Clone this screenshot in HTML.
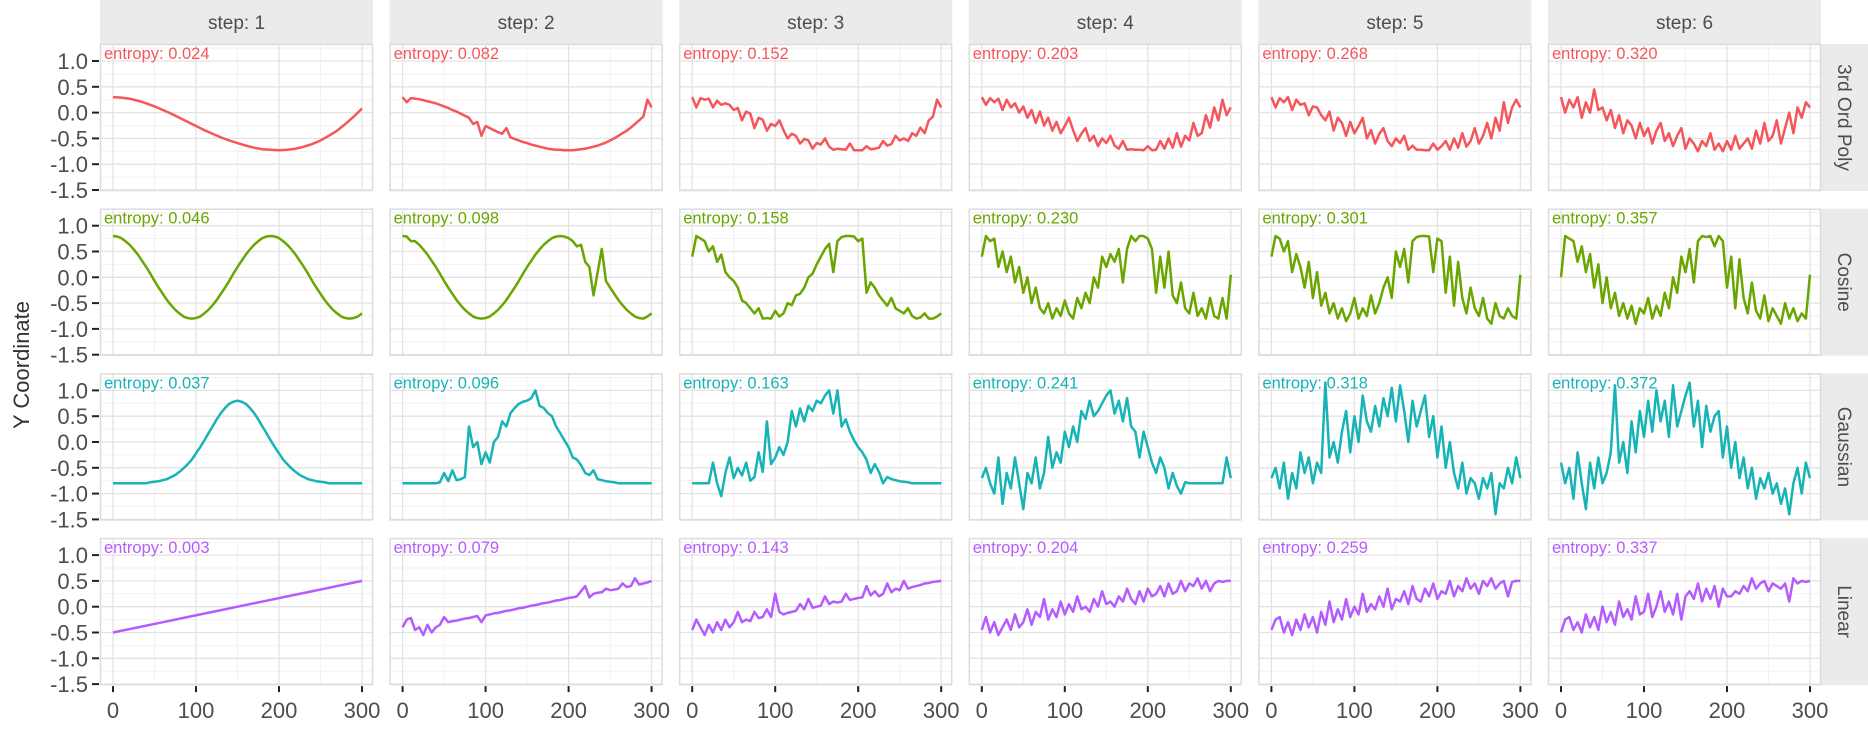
<!DOCTYPE html>
<html><head><meta charset="utf-8">
<style>
html,body{margin:0;padding:0;background:#fff;}
svg{display:block;font-family:"Liberation Sans",sans-serif;}
</style></head>
<body>
<svg id="chart" width="1868" height="730" viewBox="0 0 1868 730" xmlns="http://www.w3.org/2000/svg"></svg>
<script>
const steps = ["step: 1","step: 2","step: 3","step: 4","step: 5","step: 6"];
const rowNames = ["3rd Ord Poly","Cosine","Gaussian","Linear"];
const rowColors = ["#f5565c","#6aa500","#17b3b7","#b55cff"];
const yTicks = [1.0,0.5,0.0,-0.5,-1.0,-1.5];
const yTickLabels = ["1.0","0.5","0.0","-0.5","-1.0","-1.5"];
const xTicks = [0,100,200,300];
const xTickLabels = ["0","100","200","300"];
const entropy = [
 ["0.024","0.082","0.152","0.203","0.268","0.320"],
 ["0.046","0.098","0.158","0.230","0.301","0.357"],
 ["0.037","0.096","0.163","0.241","0.318","0.372"],
 ["0.003","0.079","0.143","0.204","0.259","0.337"]
];
const poly1 = [0.30,0.29,0.27,0.23,0.18,0.12,0.05,-0.02,-0.10,-0.18,-0.26,-0.34,-0.41,-0.48,-0.54,-0.59,-0.64,-0.68,-0.71,-0.72,-0.73,-0.72,-0.70,-0.66,-0.61,-0.54,-0.45,-0.35,-0.22,-0.08,0.08];
const poly2 = [0.30,0.20,0.28,0.27,0.26,0.24,0.22,0.20,0.18,0.15,0.12,0.09,0.05,0.02,-0.02,-0.06,-0.10,-0.22,-0.18,-0.45,-0.26,-0.30,-0.34,-0.38,-0.41,-0.30,-0.48,-0.51,-0.54,-0.57,-0.59,-0.62,-0.64,-0.66,-0.68,-0.70,-0.71,-0.72,-0.72,-0.73,-0.73,-0.73,-0.72,-0.71,-0.70,-0.68,-0.66,-0.64,-0.61,-0.58,-0.54,-0.50,-0.45,-0.40,-0.35,-0.29,-0.22,-0.15,-0.08,0.25,0.10];
const poly3 = [0.30,0.10,0.28,0.25,0.27,0.10,0.23,0.15,0.18,0.15,0.05,0.09,-0.15,0.02,-0.02,-0.30,-0.10,-0.14,-0.35,-0.22,-0.26,-0.15,-0.34,-0.50,-0.41,-0.45,-0.60,-0.51,-0.54,-0.70,-0.59,-0.62,-0.50,-0.66,-0.72,-0.70,-0.71,-0.72,-0.60,-0.73,-0.73,-0.73,-0.65,-0.71,-0.70,-0.68,-0.55,-0.64,-0.61,-0.45,-0.54,-0.50,-0.55,-0.40,-0.45,-0.29,-0.40,-0.15,-0.08,0.25,0.10];
const poly4 = [0.30,0.15,0.28,0.20,0.27,0.05,0.25,0.10,0.18,0.00,0.12,-0.10,0.05,-0.20,0.02,-0.25,-0.10,-0.35,-0.18,-0.40,-0.26,-0.10,-0.34,-0.55,-0.41,-0.30,-0.55,-0.45,-0.65,-0.50,-0.59,-0.45,-0.64,-0.70,-0.55,-0.72,-0.71,-0.72,-0.72,-0.73,-0.65,-0.73,-0.72,-0.55,-0.70,-0.50,-0.68,-0.40,-0.66,-0.45,-0.54,-0.20,-0.45,-0.40,-0.05,-0.29,0.10,-0.15,0.25,-0.05,0.10];
const poly5 = [0.30,0.10,0.28,0.20,0.30,0.05,0.25,0.15,0.18,-0.05,0.12,0.10,-0.05,-0.15,0.02,-0.35,-0.10,-0.20,-0.45,-0.18,-0.40,-0.26,-0.10,-0.50,-0.34,-0.60,-0.41,-0.30,-0.55,-0.65,-0.50,-0.59,-0.45,-0.72,-0.64,-0.72,-0.72,-0.73,-0.73,-0.60,-0.72,-0.65,-0.55,-0.72,-0.50,-0.68,-0.40,-0.66,-0.55,-0.30,-0.60,-0.45,-0.20,-0.50,-0.10,-0.35,0.20,-0.20,0.10,0.25,0.10];
const poly6 = [0.30,0.00,0.25,0.10,0.30,-0.10,0.20,0.00,0.45,0.05,0.10,-0.15,0.05,-0.30,-0.05,-0.40,-0.15,-0.25,-0.50,-0.20,-0.45,-0.30,-0.60,-0.35,-0.20,-0.55,-0.40,-0.65,-0.45,-0.30,-0.70,-0.50,-0.60,-0.75,-0.55,-0.65,-0.40,-0.72,-0.60,-0.75,-0.55,-0.72,-0.45,-0.70,-0.60,-0.50,-0.70,-0.35,-0.60,-0.20,-0.55,-0.45,-0.15,-0.60,-0.30,0.00,-0.40,0.10,-0.10,0.20,0.10];
const cos1 = [0.80,0.79,0.76,0.70,0.63,0.54,0.44,0.32,0.20,0.07,-0.07,-0.20,-0.32,-0.44,-0.54,-0.63,-0.70,-0.76,-0.79,-0.80,-0.79,-0.76,-0.70,-0.63,-0.54,-0.44,-0.32,-0.20,-0.07,0.07,0.20,0.32,0.44,0.54,0.63,0.70,0.76,0.79,0.80,0.79,0.76,0.70,0.63,0.54,0.44,0.32,0.20,0.07,-0.07,-0.20,-0.32,-0.44,-0.54,-0.63,-0.70,-0.76,-0.79,-0.80,-0.79,-0.76,-0.70];
const cos2 = [0.80,0.79,0.70,0.70,0.63,0.54,0.44,0.32,0.20,0.07,-0.07,-0.20,-0.32,-0.44,-0.54,-0.63,-0.70,-0.76,-0.79,-0.80,-0.79,-0.76,-0.70,-0.63,-0.54,-0.44,-0.32,-0.20,-0.07,0.07,0.20,0.32,0.44,0.54,0.63,0.70,0.76,0.79,0.80,0.79,0.76,0.70,0.60,0.63,0.30,0.20,-0.35,0.10,0.55,-0.07,-0.20,-0.32,-0.44,-0.54,-0.63,-0.70,-0.76,-0.79,-0.80,-0.76,-0.70];
const cos3 = [0.40,0.80,0.75,0.70,0.50,0.60,0.30,0.44,0.10,0.00,-0.07,-0.20,-0.45,-0.50,-0.60,-0.70,-0.60,-0.80,-0.79,-0.80,-0.65,-0.76,-0.70,-0.50,-0.54,-0.35,-0.32,-0.20,0.00,0.07,0.25,0.40,0.55,0.65,0.10,0.70,0.78,0.80,0.80,0.79,0.70,0.75,-0.30,-0.10,-0.20,-0.35,-0.45,-0.55,-0.40,-0.60,-0.65,-0.70,-0.60,-0.75,-0.80,-0.78,-0.70,-0.80,-0.80,-0.76,-0.70];
const cos4 = [0.40,0.80,0.70,0.75,0.20,0.50,0.10,0.40,-0.10,0.20,-0.30,0.00,-0.50,-0.20,-0.60,-0.70,-0.50,-0.80,-0.60,-0.75,-0.45,-0.70,-0.80,-0.40,-0.60,-0.30,-0.50,0.00,-0.20,0.40,0.20,0.45,0.30,0.55,-0.10,0.55,0.80,0.70,0.80,0.80,0.75,0.55,-0.30,0.40,-0.20,0.50,-0.35,-0.50,-0.10,-0.60,-0.70,-0.30,-0.75,-0.60,-0.80,-0.40,-0.75,-0.80,-0.40,-0.80,0.05];
const cos5 = [0.40,0.80,0.75,0.50,0.70,0.10,0.45,0.20,-0.20,0.30,-0.40,0.10,-0.55,-0.30,-0.70,-0.50,-0.80,-0.60,-0.85,-0.70,-0.40,-0.80,-0.60,-0.75,-0.35,-0.70,-0.50,-0.20,0.00,-0.40,0.50,0.20,0.55,-0.10,0.70,0.78,0.80,0.80,0.79,0.10,0.75,0.70,-0.30,0.40,-0.55,0.30,-0.40,-0.70,-0.20,-0.60,-0.75,-0.40,-0.80,-0.90,-0.50,-0.75,-0.80,-0.60,-0.75,-0.80,0.05];
const cos6 = [0.00,0.80,0.75,0.70,0.30,0.60,0.10,0.45,-0.20,0.25,-0.50,0.00,-0.60,-0.30,-0.75,-0.50,-0.80,-0.55,-0.90,-0.60,-0.70,-0.40,-0.80,-0.55,-0.75,-0.30,-0.60,0.00,-0.30,0.40,0.10,0.55,-0.10,0.70,0.80,0.78,0.80,0.60,0.80,0.70,-0.20,0.40,-0.60,0.35,-0.40,-0.70,-0.10,-0.65,-0.80,-0.35,-0.85,-0.60,-0.75,-0.90,-0.50,-0.80,-0.60,-0.85,-0.70,-0.80,0.05];
const gau1 = [-0.80,-0.80,-0.80,-0.80,-0.80,-0.80,-0.80,-0.80,-0.80,-0.78,-0.77,-0.76,-0.74,-0.72,-0.68,-0.64,-0.58,-0.51,-0.43,-0.34,-0.22,-0.10,0.03,0.17,0.30,0.44,0.56,0.66,0.74,0.78,0.80,0.78,0.74,0.66,0.56,0.44,0.30,0.17,0.03,-0.10,-0.22,-0.34,-0.43,-0.51,-0.58,-0.64,-0.68,-0.72,-0.74,-0.76,-0.77,-0.78,-0.80,-0.80,-0.80,-0.80,-0.80,-0.80,-0.80,-0.80,-0.80];
const gau2 = [-0.80,-0.80,-0.80,-0.80,-0.80,-0.80,-0.80,-0.80,-0.80,-0.78,-0.60,-0.76,-0.55,-0.74,-0.72,-0.68,0.30,-0.10,0.00,-0.43,-0.20,-0.40,0.00,0.10,0.40,0.30,0.56,0.66,0.74,0.78,0.80,0.85,1.00,0.70,0.66,0.56,0.50,0.30,0.17,0.03,-0.10,-0.30,-0.34,-0.45,-0.60,-0.64,-0.55,-0.72,-0.74,-0.76,-0.77,-0.78,-0.80,-0.80,-0.80,-0.80,-0.80,-0.80,-0.80,-0.80,-0.80];
const gau3 = [-0.80,-0.80,-0.80,-0.80,-0.80,-0.40,-0.80,-1.05,-0.60,-0.30,-0.70,-0.50,-0.65,-0.40,-0.75,-0.68,-0.20,-0.58,0.40,-0.43,-0.30,-0.10,-0.25,0.00,0.60,0.30,0.65,0.40,0.70,0.60,0.80,0.75,0.90,1.00,0.55,1.00,0.30,0.44,0.20,0.03,-0.10,-0.20,-0.34,-0.60,-0.43,-0.58,-0.80,-0.68,-0.72,-0.74,-0.76,-0.77,-0.78,-0.80,-0.80,-0.80,-0.80,-0.80,-0.80,-0.80,-0.80];
const gau4 = [-0.70,-0.50,-0.80,-1.00,-0.30,-1.20,-0.60,-0.90,-0.30,-0.80,-1.30,-0.60,-0.80,-0.30,-0.90,-0.60,0.10,-0.50,-0.20,-0.40,0.20,-0.10,0.30,0.00,0.60,0.45,0.80,0.50,0.60,0.75,0.90,1.00,0.55,0.80,0.40,0.85,0.30,0.20,-0.30,0.20,-0.10,-0.40,-0.60,-0.30,-0.50,-0.90,-0.60,-0.85,-1.00,-0.78,-0.80,-0.80,-0.80,-0.80,-0.80,-0.80,-0.80,-0.80,-0.80,-0.30,-0.70];
const gau5 = [-0.70,-0.50,-0.90,-0.40,-1.10,-0.60,-0.90,-0.20,-0.60,-0.30,-0.80,-0.40,-0.60,1.15,-0.30,0.00,-0.40,0.20,0.60,-0.20,0.50,0.00,0.90,0.40,0.20,0.70,0.30,0.85,0.50,1.05,0.40,1.10,0.60,0.00,0.80,0.30,0.60,0.90,0.10,0.50,-0.30,0.30,-0.50,0.00,-0.60,-0.90,-0.40,-1.00,-0.70,-0.80,-1.10,-0.70,-0.90,-0.60,-1.40,-0.80,-0.90,-0.50,-0.80,-0.30,-0.70];
const gau6 = [-0.40,-0.80,-0.50,-1.10,-0.20,-0.80,-1.30,-0.40,-0.90,-0.30,-0.80,-0.60,-0.20,1.10,-0.40,0.00,-0.60,0.40,-0.20,0.60,0.10,0.80,0.20,1.00,0.40,0.80,0.10,1.10,0.30,0.60,0.90,1.15,0.30,0.80,-0.10,0.70,0.20,0.50,0.60,-0.30,0.30,-0.50,0.00,-0.70,-0.30,-0.90,-0.50,-1.10,-0.70,-0.90,-0.60,-1.00,-0.80,-1.20,-0.90,-1.40,-0.80,-0.50,-1.00,-0.40,-0.70];
const lin1 = [-0.50,-0.40,-0.30,-0.20,-0.10,0.00,0.10,0.20,0.30,0.40,0.50];
const lin2 = [-0.40,-0.25,-0.22,-0.45,-0.40,-0.55,-0.35,-0.50,-0.40,-0.35,-0.20,-0.30,-0.28,-0.27,-0.25,-0.23,-0.22,-0.20,-0.18,-0.30,-0.17,-0.15,-0.13,-0.12,-0.10,-0.08,-0.07,-0.05,-0.03,-0.02,0.00,0.02,0.03,0.05,0.07,0.08,0.10,0.12,0.13,0.15,0.17,0.18,0.20,0.30,0.40,0.18,0.25,0.27,0.28,0.35,0.32,0.33,0.35,0.45,0.38,0.40,0.55,0.43,0.45,0.47,0.50];
const lin3 = [-0.45,-0.25,-0.40,-0.55,-0.35,-0.50,-0.30,-0.45,-0.25,-0.40,-0.30,-0.10,-0.30,-0.25,-0.28,-0.10,-0.22,-0.20,-0.05,-0.20,0.25,-0.10,-0.15,-0.12,-0.10,-0.08,0.05,-0.05,0.15,-0.02,0.00,0.02,0.20,0.05,0.10,0.08,0.10,0.25,0.13,0.15,0.17,0.18,0.40,0.22,0.30,0.20,0.25,0.45,0.28,0.35,0.32,0.50,0.35,0.38,0.40,0.42,0.45,0.46,0.48,0.49,0.50];
const lin4 = [-0.45,-0.20,-0.50,-0.30,-0.55,-0.40,-0.25,-0.45,-0.15,-0.40,-0.30,-0.05,-0.35,-0.10,-0.20,0.15,-0.25,-0.05,-0.20,0.10,-0.15,0.05,-0.10,0.20,-0.05,0.00,-0.10,0.15,0.00,0.30,0.05,0.10,0.00,0.20,0.10,0.35,0.15,0.05,0.30,0.10,0.35,0.20,0.25,0.40,0.20,0.45,0.25,0.30,0.50,0.30,0.45,0.40,0.55,0.35,0.50,0.30,0.45,0.50,0.48,0.50,0.50];
const lin5 = [-0.45,-0.25,-0.20,-0.50,-0.30,-0.55,-0.25,-0.45,-0.15,-0.40,-0.20,-0.50,-0.10,-0.35,0.10,-0.30,-0.05,-0.25,0.15,-0.20,0.00,-0.15,0.25,-0.10,0.05,-0.05,0.20,0.00,0.35,-0.05,0.15,0.10,0.30,0.05,0.40,0.15,0.10,0.35,0.20,0.45,0.15,0.30,0.25,0.50,0.20,0.40,0.30,0.55,0.35,0.45,0.25,0.50,0.40,0.55,0.35,0.45,0.50,0.20,0.48,0.50,0.50];
const lin6 = [-0.50,-0.25,-0.20,-0.45,-0.30,-0.50,-0.15,-0.40,-0.20,-0.45,0.00,-0.30,-0.10,-0.35,0.10,-0.20,-0.05,-0.25,0.20,-0.15,-0.10,0.25,-0.20,0.00,0.30,-0.10,0.10,-0.15,0.25,-0.25,0.20,0.30,0.15,0.45,0.10,0.35,0.15,0.40,0.00,0.35,0.20,0.20,0.30,0.25,0.40,0.30,0.55,0.35,0.45,0.50,0.30,0.45,0.40,0.35,0.45,0.10,0.55,0.45,0.50,0.48,0.50];
const series = [
 [poly1,poly2,poly3,poly4,poly5,poly6],
 [cos1,cos2,cos3,cos4,cos5,cos6],
 [gau1,gau2,gau3,gau4,gau5,gau6],
 [lin1,lin2,lin3,lin4,lin5,lin6]
];

const NS = "http://www.w3.org/2000/svg";
const svg = document.getElementById("chart");
function mk(tag, attrs, parent){
  const e = document.createElementNS(NS, tag);
  for (const k in attrs) e.setAttribute(k, attrs[k]);
  (parent||svg).appendChild(e);
  return e;
}
const PL = 100, PW = 273, PITCHX = 289.6;
const PT = 44, PH = 147, PITCHY = 164.7;
const XMIN = 0, XMAX = 300;
function xScale(c, v){ return PL + c*PITCHX + 13 + (v - XMIN)/(XMAX-XMIN)*249; }
function yScale(r, v){ return PT + r*PITCHY + 17 + (1.0 - v)*51.6; }

steps.forEach((s,c)=>{
  const g = mk("g",{});
  
  
  mk("rect",{x:PL+c*PITCHX,y:0,width:PW,height:PT,fill:"#ebebeb"},g);
  const t = mk("text",{x:PL+c*PITCHX+PW/2,y:29,"text-anchor":"middle","font-size":"19","fill":"#4d4d4d"},g);
  t.textContent = s;
});
rowNames.forEach((n,r)=>{
  const g = mk("g",{});
  
  
  const top = PT + r*PITCHY;
  mk("rect",{x:1821,y:top,width:47,height:PH,fill:"#ebebeb"},g);
  const t = mk("text",{x:0,y:0,"text-anchor":"middle","font-size":"19","fill":"#4d4d4d",transform:`translate(1838,${top+PH/2}) rotate(90)`},g);
  t.textContent = n;
});

for (let r=0;r<4;r++){
  for (let c=0;c<6;c++){
    const g = mk("g",{});
    
    
    const left = PL + c*PITCHX, top = PT + r*PITCHY;
    mk("rect",{x:left,y:top,width:PW,height:PH,fill:"#fff"},g);
    [50,150,250].forEach(v=>{ const x=xScale(c,v); mk("line",{x1:x,x2:x,y1:top,y2:top+PH,stroke:"#f2f2f2","stroke-width":1},g); });
    [1.25,0.75,0.25,-0.25,-0.75,-1.25].forEach(v=>{ const y=yScale(r,v); mk("line",{x1:left,x2:left+PW,y1:y,y2:y,stroke:"#f2f2f2","stroke-width":1},g); });
    xTicks.forEach(v=>{ const x=xScale(c,v); mk("line",{x1:x,x2:x,y1:top,y2:top+PH,stroke:"#e3e3e3","stroke-width":1.3},g); });
    yTicks.forEach(v=>{ const y=yScale(r,v); mk("line",{x1:left,x2:left+PW,y1:y,y2:y,stroke:"#e3e3e3","stroke-width":1.3},g); });
    mk("rect",{x:left+0.5,y:top+0.5,width:PW-1,height:PH-1,fill:"none",stroke:"#dcdcdc","stroke-width":1.5},g);
    const data = series[r][c];
    const n = data.length;
    const pts = data.map((v,i)=> xScale(c, XMIN + i*(XMAX-XMIN)/(n-1)).toFixed(2)+","+yScale(r,v).toFixed(2)).join(" ");
    const pl = mk("polyline",{points:pts,fill:"none",stroke:rowColors[r],"stroke-width":2.5,"stroke-linejoin":"round"},g);
    
    
    const et = mk("text",{x:left+4,y:top+15,"font-size":"16.5","fill":rowColors[r]},g);
    
    
    et.textContent = "entropy: " + entropy[r][c];
  }
  const ga = mk("g",{});
  
  
  yTicks.forEach((v,i)=>{
    const y = yScale(r,v);
    mk("line",{x1:92,x2:99,y1:y,y2:y,stroke:"#222","stroke-width":2},ga);
    const t = mk("text",{x:88,y:y+8,"text-anchor":"end","font-size":"22","fill":"#4d4d4d"},ga);
    t.textContent = yTickLabels[i];
  });
}
for (let c=0;c<6;c++){
  const ga = mk("g",{});
  
  
  const bottom = PT + 3*PITCHY + PH;
  xTicks.forEach((v,i)=>{
    const x = xScale(c,v);
    mk("line",{x1:x,x2:x,y1:bottom+1,y2:bottom+7,stroke:"#222","stroke-width":2},ga);
    const t = mk("text",{x:x,y:bottom+33,"text-anchor":"middle","font-size":"22","fill":"#4d4d4d"},ga);
    t.textContent = xTickLabels[i];
  });
}
const yt = mk("text",{x:0,y:0,"text-anchor":"middle","font-size":"22","fill":"#333",transform:"translate(29,365) rotate(-90)"});


yt.textContent = "Y Coordinate";
</script>
</body></html>
